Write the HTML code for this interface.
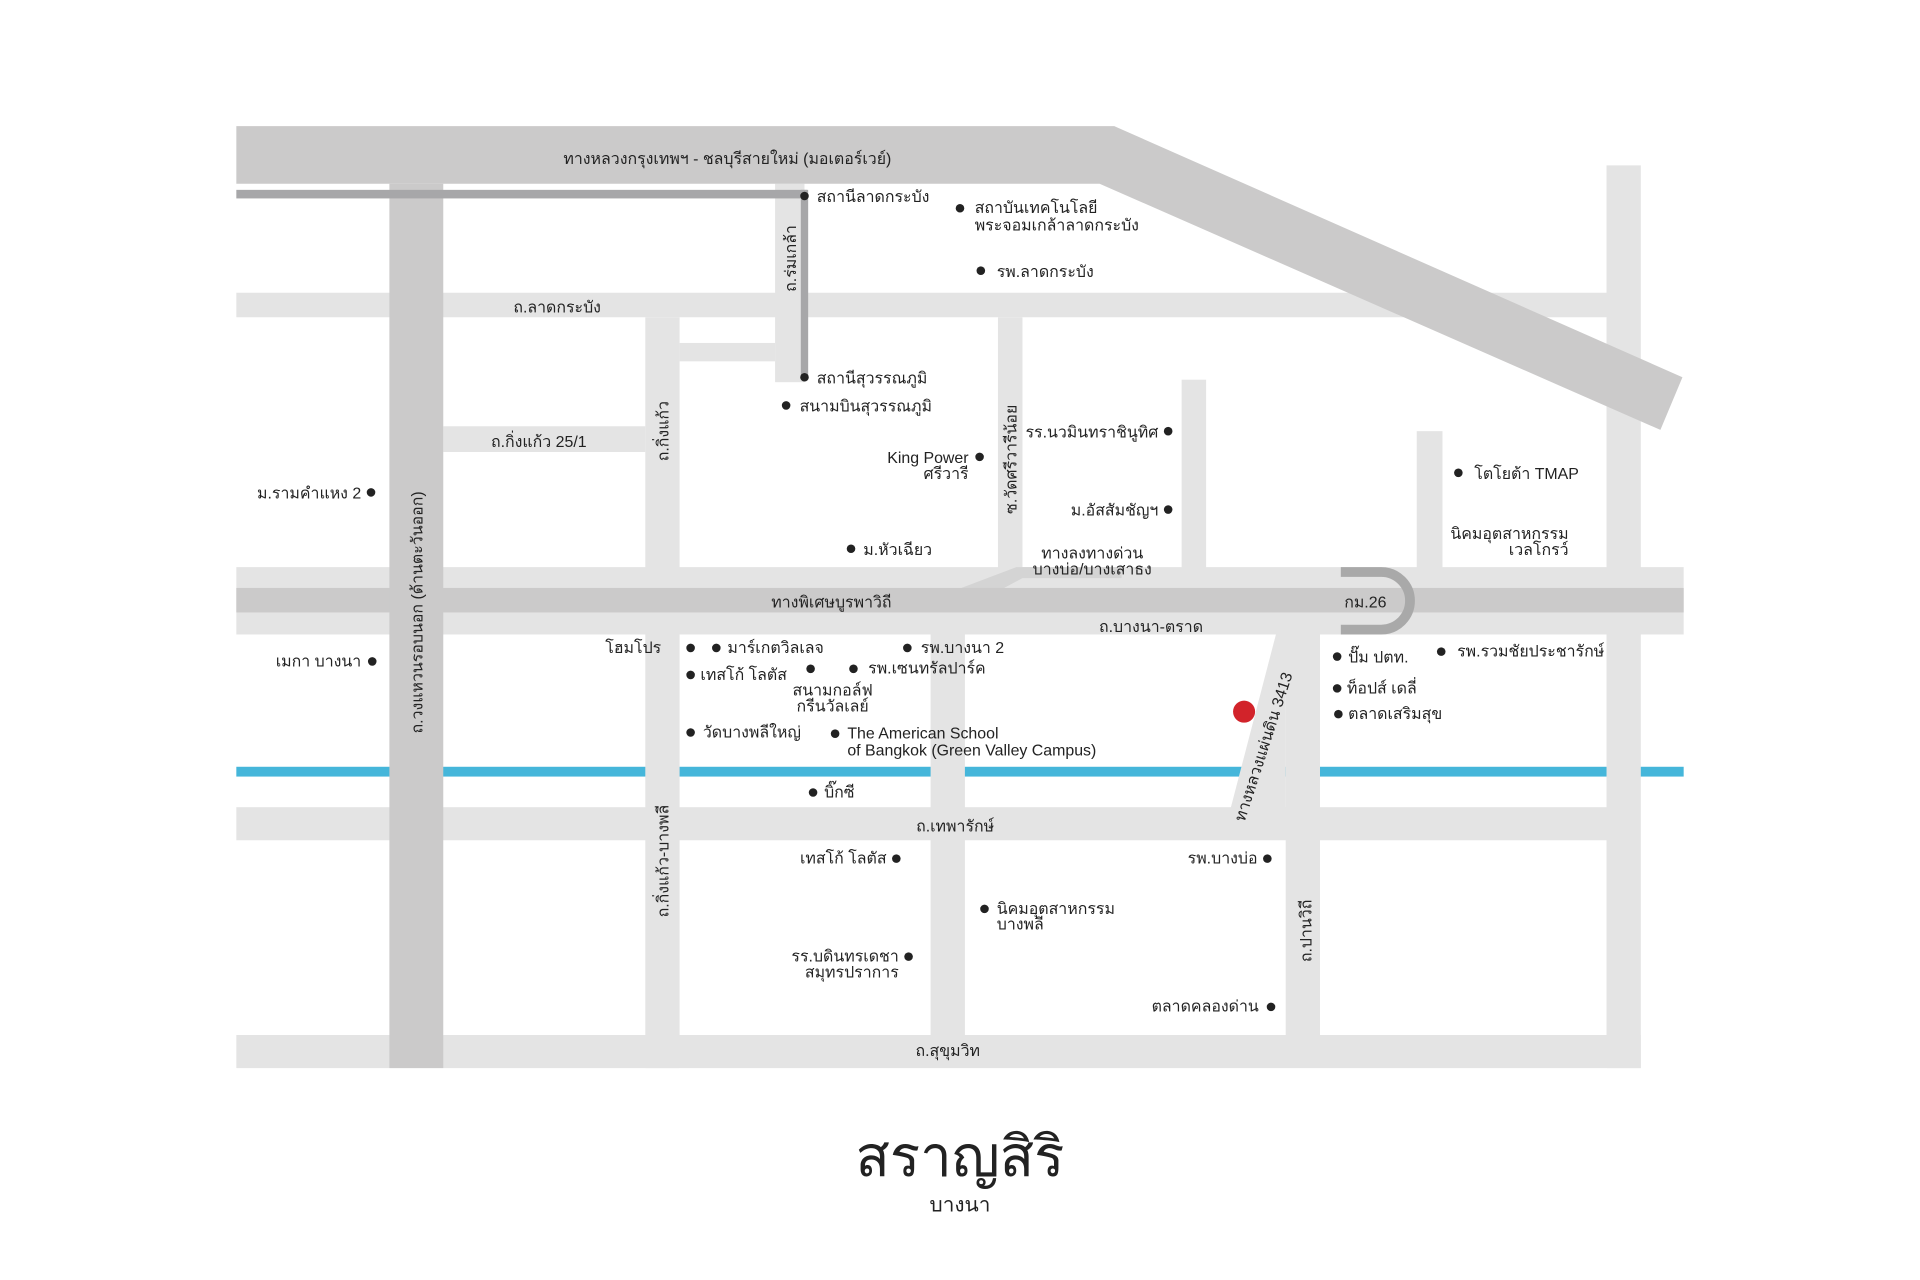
<!DOCTYPE html>
<html><head><meta charset="utf-8"><style>
html,body{margin:0;padding:0;background:#fff;}
svg{display:block}
text{font-family:"Liberation Sans","Noto Sans CJK SC",sans-serif;font-size:13px;fill:#222;}
</style></head><body>
<svg width="1920" height="1280" viewBox="0 0 1568 1045" preserveAspectRatio="none" xmlns="http://www.w3.org/2000/svg">
<rect width="1568" height="1045" fill="#fff"/>
<rect x="193" y="626" width="1182" height="8" fill="#45b6da"/>
<g fill="#e4e4e4">
<rect x="193" y="239" width="1119" height="20"/>
<rect x="1312" y="135" width="28" height="737"/>
<rect x="527" y="259" width="28" height="613"/>
<rect x="362" y="348" width="165" height="21"/>
<rect x="555" y="280" width="78" height="15"/>
<rect x="633" y="150" width="24" height="162"/>
<rect x="815" y="259" width="20" height="210"/>
<rect x="965" y="310" width="20" height="160"/>
<rect x="1157" y="352" width="21" height="115"/>
<rect x="193" y="463" width="1182" height="55"/>
<rect x="760" y="518" width="28" height="327"/>
<rect x="1050" y="518" width="28" height="327"/>
<rect x="193" y="659" width="1119" height="27"/>
<rect x="193" y="845" width="1147" height="27"/>
<polygon points="1042,518 1062,518 1050,555 1050,660 1023,660 1005,660"/>
</g>
<polygon points="785,480 830,463 916,463 916,472 835,472 820,480" fill="#d4d4d4"/>
<rect x="193" y="480" width="1182" height="20" fill="#cbcaca"/>
<path d="M1095,467 H1128 A23.5,23.5 0 0 1 1128,514 H1095" fill="none" stroke="#a9a9a9" stroke-width="8"/>
<rect x="318" y="150" width="44" height="722" fill="#cbcaca"/>
<polygon points="193,103 910,103 1374,308 1356,351 898,150 193,150" fill="#cbcaca"/>
<rect x="193" y="155" width="466" height="7" fill="#a7a7a9"/>
<rect x="654" y="155" width="6" height="153" fill="#a7a7a9"/>
<circle cx="1016" cy="581" r="9" fill="#d2232a"/>
<g fill="#222">
<circle cx="657" cy="160" r="3.5"/><circle cx="784" cy="170" r="3.5"/><circle cx="801" cy="221" r="3.5"/>
<circle cx="657" cy="308" r="3.5"/><circle cx="642" cy="331" r="3.5"/><circle cx="954" cy="352" r="3.5"/>
<circle cx="800" cy="373" r="3.5"/><circle cx="954" cy="416" r="3.5"/><circle cx="303" cy="402" r="3.5"/>
<circle cx="695" cy="448" r="3.5"/><circle cx="1191" cy="386" r="3.5"/><circle cx="304" cy="540" r="3.5"/>
<circle cx="564" cy="529" r="3.5"/><circle cx="585" cy="529" r="3.5"/><circle cx="741" cy="529" r="3.5"/>
<circle cx="564" cy="551" r="3.5"/><circle cx="662" cy="546" r="3.5"/><circle cx="697" cy="546" r="3.5"/>
<circle cx="564" cy="598" r="3.5"/><circle cx="682" cy="599" r="3.5"/><circle cx="664" cy="647" r="3.5"/>
<circle cx="1092" cy="536" r="3.5"/><circle cx="1177" cy="532" r="3.5"/><circle cx="1092" cy="562" r="3.5"/>
<circle cx="1093" cy="583" r="3.5"/><circle cx="732" cy="701" r="3.5"/><circle cx="1035" cy="701" r="3.5"/>
<circle cx="804" cy="742" r="3.5"/><circle cx="742" cy="781" r="3.5"/><circle cx="1038" cy="822" r="3.5"/>
</g>
<text x="594" y="134" text-anchor="middle">ทางหลวงกรุงเทพฯ - ชลบุรีสายใหม่ (มอเตอร์เวย์)</text>
<text x="667" y="165">สถานีลาดกระบัง</text>
<text x="796" y="174">สถาบันเทคโนโลยี</text>
<text x="796" y="188">พระจอมเกล้าลาดกระบัง</text>
<text x="814" y="226">รพ.ลาดกระบัง</text>
<text x="455" y="255" text-anchor="middle">ถ.ลาดกระบัง</text>
<text x="667" y="313">สถานีสุวรรณภูมิ</text>
<text x="653" y="336">สนามบินสุวรรณภูมิ</text>
<text x="440" y="365" text-anchor="middle">ถ.กิ่งแก้ว 25/1</text>
<text x="946" y="357" text-anchor="end">รร.นวมินทราชินูทิศ</text>
<text x="791" y="378" text-anchor="end">King Power</text>
<text x="791" y="391" text-anchor="end">ศรีวารี</text>
<text x="946" y="421" text-anchor="end">ม.อัสสัมชัญฯ</text>
<text x="295" y="407" text-anchor="end">ม.รามคำแหง 2</text>
<text x="705" y="453">ม.หัวเฉียว</text>
<text x="1204" y="391">โตโยต้า TMAP</text>
<text x="1281" y="440" text-anchor="end">นิคมอุตสาหกรรม</text>
<text x="1281" y="453" text-anchor="end">เวลโกรว์</text>
<text x="892" y="456" text-anchor="middle">ทางลงทางด่วน</text>
<text x="892" y="469" text-anchor="middle">บางบ่อ/บางเสาธง</text>
<text x="679" y="496" text-anchor="middle">ทางพิเศษบูรพาวิถี</text>
<text x="1115" y="496" text-anchor="middle">กม.26</text>
<text x="940" y="516" text-anchor="middle">ถ.บางนา-ตราด</text>
<text x="295" y="544" text-anchor="end">เมกา บางนา</text>
<text x="540" y="533" text-anchor="end">โฮมโปร</text>
<text x="594" y="533">มาร์เกตวิลเลจ</text>
<text x="752" y="533">รพ.บางนา 2</text>
<text x="709" y="550">รพ.เซนทรัลปาร์ค</text>
<text x="572" y="555">เทสโก้ โลตัส</text>
<text x="680" y="568" text-anchor="middle">สนามกอล์ฟ</text>
<text x="680" y="581" text-anchor="middle">กรีนวัลเลย์</text>
<text x="574" y="602">วัดบางพลีใหญ่</text>
<text x="692" y="603">The American School</text>
<text x="692" y="617">of Bangkok (Green Valley Campus)</text>
<text x="1101" y="541">ปั๊ม ปตท.</text>
<text x="1190" y="536">รพ.รวมชัยประชารักษ์</text>
<text x="1100" y="566">ท็อปส์ เดลี่</text>
<text x="1101" y="587">ตลาดเสริมสุข</text>
<text x="673" y="651">บิ๊กซี</text>
<text x="780" y="679" text-anchor="middle">ถ.เทพารักษ์</text>
<text x="724" y="705" text-anchor="end">เทสโก้ โลตัส</text>
<text x="1027" y="705" text-anchor="end">รพ.บางบ่อ</text>
<text x="814" y="746">นิคมอุตสาหกรรม</text>
<text x="814" y="759">บางพลี</text>
<text x="734" y="785" text-anchor="end">รร.บดินทรเดชา</text>
<text x="734" y="798" text-anchor="end">สมุทรปราการ</text>
<text x="1028" y="826" text-anchor="end">ตลาดคลองด่าน</text>
<text x="774" y="862" text-anchor="middle">ถ.สุขุมวิท</text>
<text transform="translate(345,500) rotate(-90)" text-anchor="middle">ถ.วงแหวนรอบนอก (ด้านตะวันออก)</text>
<text transform="translate(650,211) rotate(-90)" text-anchor="middle">ถ.ร่มเกล้า</text>
<text transform="translate(546,352) rotate(-90)" text-anchor="middle">ถ.กิ่งแก้ว</text>
<text transform="translate(830,375) rotate(-90)" text-anchor="middle">ซ.วัดศรีวารีน้อย</text>
<text transform="translate(546,703) rotate(-90)" text-anchor="middle">ถ.กิ่งแก้ว-บางพลี</text>
<text transform="translate(1071,760) rotate(-90)" text-anchor="middle">ถ.ปานวิถี</text>
<text transform="translate(1036,611) rotate(-72)" text-anchor="middle">ทางหลวงแผ่นดิน 3413</text>
<text x="784" y="960" text-anchor="middle" style="font-size:46px;fill:#222;font-weight:300">สราญสิริ</text>
<text x="784" y="989" text-anchor="middle" style="font-size:17px">บางนา</text>
</svg>
</body></html>
